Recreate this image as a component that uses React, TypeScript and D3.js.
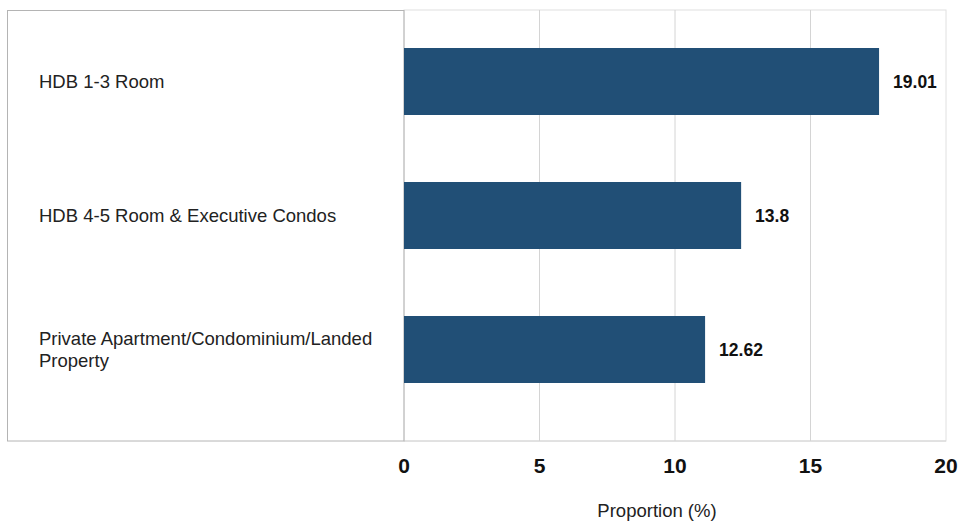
import React from "react";
import * as d3 from "d3";

const categories = [
  ["HDB 1-3 Room"],
  ["HDB 4-5 Room & Executive Condos"],
  ["Private Apartment/Condominium/Landed", "Property"],
];
const barValues = [17.53, 12.44, 11.11];
const valueLabels = ["19.01", "13.8", "12.62"];
const ticks = [0, 5, 10, 15, 20];

export default function App() {
  const W = 961, H = 522;
  const x = d3.scaleLinear().domain([0, 20]).range([404, 946]);
  const y = d3
    .scaleBand<number>()
    .domain(d3.range(categories.length))
    .range([14.5, 416.5])
    .paddingInner(0.5)
    .paddingOuter(0.25);
  const top = 10, bottom = 441;
  const font = "'Liberation Sans', Arial, sans-serif";
  return (
    <svg
      width={W}
      height={H}
      style={{ position: "absolute", left: 0, top: 0 }}
      fontFamily={font}
    >
      <rect x={0} y={0} width={W} height={H} fill="#fff" />
      <rect x={404} y={top} width={542} height={bottom - top} fill="none" stroke="#e0e0e0" strokeWidth={1} />
      {ticks.slice(1, -1).map((t) => (
        <line key={t} x1={x(t)} x2={x(t)} y1={top} y2={bottom} stroke="#d4d4d4" strokeWidth={1} />
      ))}
      <line x1={404} x2={946} y1={bottom} y2={bottom} stroke="#d4d4d4" />
      <rect x={7.5} y={top + 0.5} width={396.5} height={bottom - top - 0.5} fill="none" stroke="#b4b4b4" strokeWidth={1} />
      {barValues.map((v, i) => (
        <g key={i}>
          <rect x={x(0)} y={y(i)!} width={x(v) - x(0)} height={y.bandwidth()} fill="#214f76" />
          <text
            x={x(v) + 14}
            y={y(i)! + y.bandwidth() / 2}
            dy="0.35em"
            fontSize={17.5}
            fontWeight="bold"
            fill="#111"
          >
            {valueLabels[i]}
          </text>
          <text x={39} y={y(i)! + y.bandwidth() / 2} fontSize={18.5} fill="#222">
            {categories[i].map((line, j) => (
              <tspan
                key={j}
                x={39}
                dy={j === 0 ? `${0.35 - (categories[i].length - 1) * 0.62}em` : "1.24em"}
              >
                {line}
              </tspan>
            ))}
          </text>
        </g>
      ))}
      {ticks.map((t) => (
        <text key={t} x={x(t)} y={466} dy="0.35em" textAnchor="middle" fontSize={21} fontWeight="bold" fill="#111">
          {t}
        </text>
      ))}
      <text x={657} y={511} dy="0.35em" textAnchor="middle" fontSize={18.5} fill="#222">
        Proportion (%)
      </text>
    </svg>
  );
}
